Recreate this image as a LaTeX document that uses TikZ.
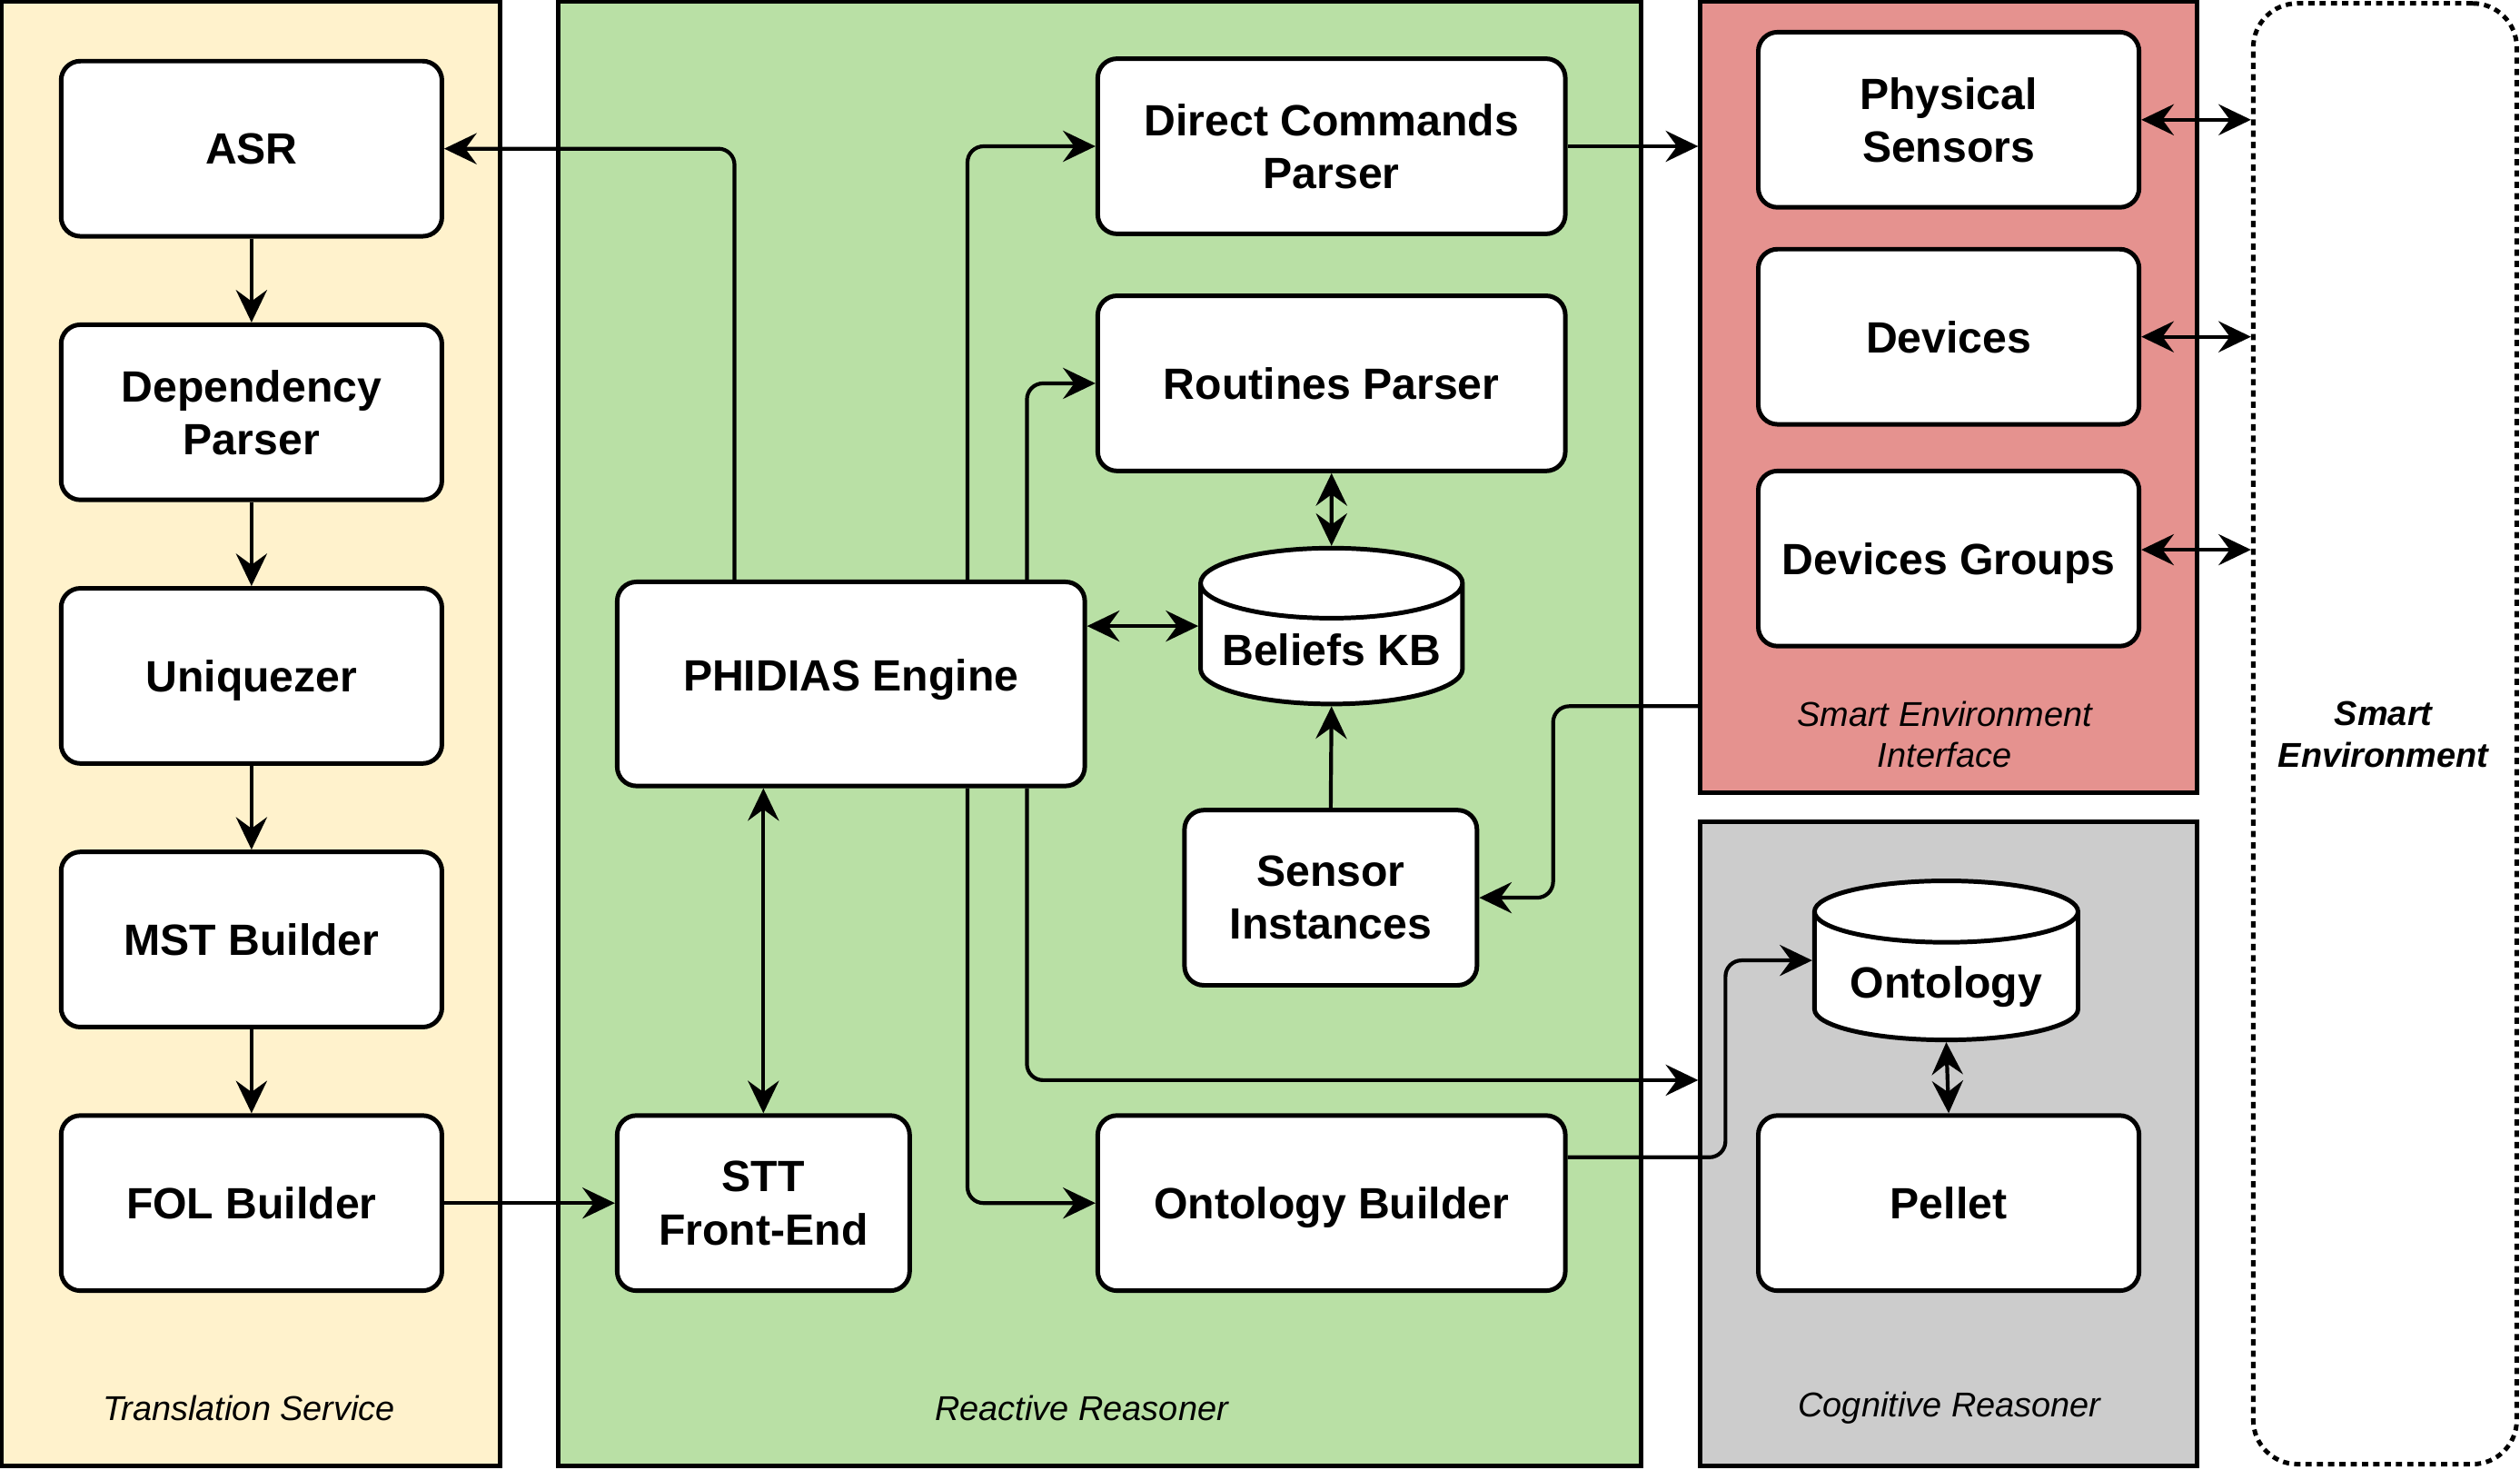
\documentclass[tikz,border=0pt]{standalone}
\usepackage{fontspec}
\setmainfont{Liberation Sans}
\usetikzlibrary{arrows.meta,shapes.geometric}

\definecolor{tsyellow}{HTML}{FFF2CC}
\definecolor{rrgreen}{HTML}{B9E0A5}
\definecolor{seired}{HTML}{E5928F}
\definecolor{cggray}{HTML}{CCCCCC}

\tikzset{
	area/.style={draw, rectangle, line width=1.6pt, inner sep=0pt},
	blk/.style={draw, rectangle, rounded corners=0.24cm, line width=1.6pt, fill=white, align=center, inner sep=0pt, minimum height=2.18cm, text depth=0pt, font=\fontsize{15.5}{18.7}\selectfont\bfseries},
	db/.style={draw, cylinder, shape border rotate=90, aspect=0.32, line width=1.6pt, fill=white, inner sep=0pt, text height=15pt, text depth=0pt, font=\fontsize{15.5}{18.7}\selectfont\bfseries},
	lbl/.style={align=center, font=\fontsize{12.2}{14.7}\selectfont\itshape},
	link/.style={line width=1.35pt, rounded corners=0.2cm},
	>={Stealth[length=11.5pt, width=11pt, inset=4pt]}
}

\begin{document}
\begin{tikzpicture}[x=0.02cm, y=-0.02cm]
		\useasboundingbox (0,0) rectangle (1568,914);

		% Containers
		\node (ts) [area, fill=tsyellow, minimum width=6.2cm, minimum height=18.22cm] at (156,456.5) {};
		\node (rr) [area, fill=rrgreen, minimum width=13.48cm, minimum height=18.22cm] at (684,456.5) {};
		\node (sei) [area, fill=seired, minimum width=6.18cm, minimum height=9.84cm] at (1212.5,247) {};
		\node (cog) [area, fill=cggray, minimum width=6.18cm, minimum height=8.02cm] at (1212.5,711.5) {};
		\node (env) [area, rounded corners=0.55cm, dash pattern=on 2.2pt off 1.8pt, minimum width=3.28cm, minimum height=18.18cm] at (1484,456.5) {};

		\node (tslbl) [lbl] at (155,876) {Translation Service};
		\node (rrlbl) [lbl] at (673,876) {Reactive Reasoner};
		\node (seilbl) [lbl] at (1210,457) {Smart Environment\\Interface};
		\node (cglbl) [lbl] at (1213,876) {Cognitive Reasoner};
		\node (envlbl) [lbl, font=\fontsize{12.2}{14.7}\selectfont\bfseries\itshape] at (1483,457) {Smart\\Environment};

		% Translation Service
		\node (asr) [blk, minimum width=4.74cm] at (156.5,92.5) {ASR};
		\node (dep) [blk, minimum width=4.74cm] at (156.5,256.5) {Dependency\\Parser};
		\node (uniq) [blk, minimum width=4.74cm] at (156.5,420.5) {Uniquezer};
		\node (mst) [blk, minimum width=4.74cm] at (156.5,584.5) {MST Builder};
		\node (fol) [blk, minimum width=4.74cm] at (156.5,748.5) {FOL Builder};

		% Reactive Reasoner
		\node (phidias) [blk, minimum width=5.82cm, minimum height=2.54cm, text depth=6.2pt] at (529.5,425.5) {PHIDIAS Engine};
		\node (dcp) [blk, minimum width=5.82cm] at (828.5,91) {Direct Commands\\Parser};
		\node (rp) [blk, minimum width=5.82cm] at (828.5,238.5) {Routines Parser};
		\node (kb) [db, minimum width=3.26cm, minimum height=1.94cm, anchor=shape center] at (828.5,389.5) {Beliefs KB};
		\node (si) [blk, minimum width=3.64cm] at (828,558.5) {Sensor\\Instances};
		\node (stt) [blk, minimum width=3.64cm] at (475,748.5) {STT\\Front-End};
		\node (ob) [blk, minimum width=5.82cm] at (828.5,748.5) {Ontology Builder};

		% Smart Environment Interface
		\node (ps) [blk, minimum width=4.74cm] at (1212.5,74.5) {Physical\\Sensors};
		\node (dev) [blk, minimum width=4.74cm] at (1212.5,209.5) {Devices};
		\node (dg) [blk, minimum width=4.74cm] at (1212.5,347.5) {Devices Groups};

		% Cognitive Reasoner
		\node (onto) [db, minimum width=3.28cm, minimum height=1.98cm, anchor=shape center] at (1211,597.5) {Ontology};
		\node (pellet) [blk, minimum width=4.74cm] at (1212.5,748.5) {Pellet};

		% Arrows
		\draw[link, ->] (asr) -- (dep);
		\draw[link, ->] (dep) -- (uniq);
		\draw[link, ->] (uniq) -- (mst);
		\draw[link, ->] (mst) -- (fol);
		\draw[link, ->] (fol) -- (stt);
		\draw[link, ->] ([xshift=-1.45cm]phidias.north) |- (asr.east);
		\draw[link, <->] (stt.north |- phidias.south) -- (stt.north);
		\draw[link, ->] ([xshift=1.45cm]phidias.north) |- (dcp.west);
		\draw[link, ->] ([xshift=2.19cm]phidias.north) |- (rp.west);
		\draw[link, <->] (phidias.east |- kb.shape center) -- (kb.west |- kb.shape center);
		\draw[link, <->] (rp.south) -- (kb.north);
		\draw[link, ->] (si.north) -- (kb.south);
		\draw[link, ->] (dcp.east) -- (dcp.east -| sei.west);
		\draw[link, ->] ([yshift=1.1cm]sei.south west) -| ([xshift=0.92cm]si.east) -- (si.east);
		\draw[link, ->] ([xshift=2.19cm]phidias.south) |- ([yshift=0.79cm]cog.west);
		\draw[link, ->] ([xshift=1.45cm]phidias.south) |- (ob.west);
		\draw[link, ->] ([yshift=0.57cm]ob.east) -| ([xshift=-1.08cm]onto.west |- onto.shape center) -- (onto.west |- onto.shape center);
		\draw[link, <->] (onto.south) -- (pellet.north);
		\draw[link, <->] (ps.east) -- (ps.east -| env.west);
		\draw[link, <->] (dev.east) -- (dev.east -| env.west);
		\draw[link, <->] ([yshift=0.11cm]dg.east) -- ([yshift=0.11cm]dg.east -| env.west);
	\end{tikzpicture}
\end{document}
